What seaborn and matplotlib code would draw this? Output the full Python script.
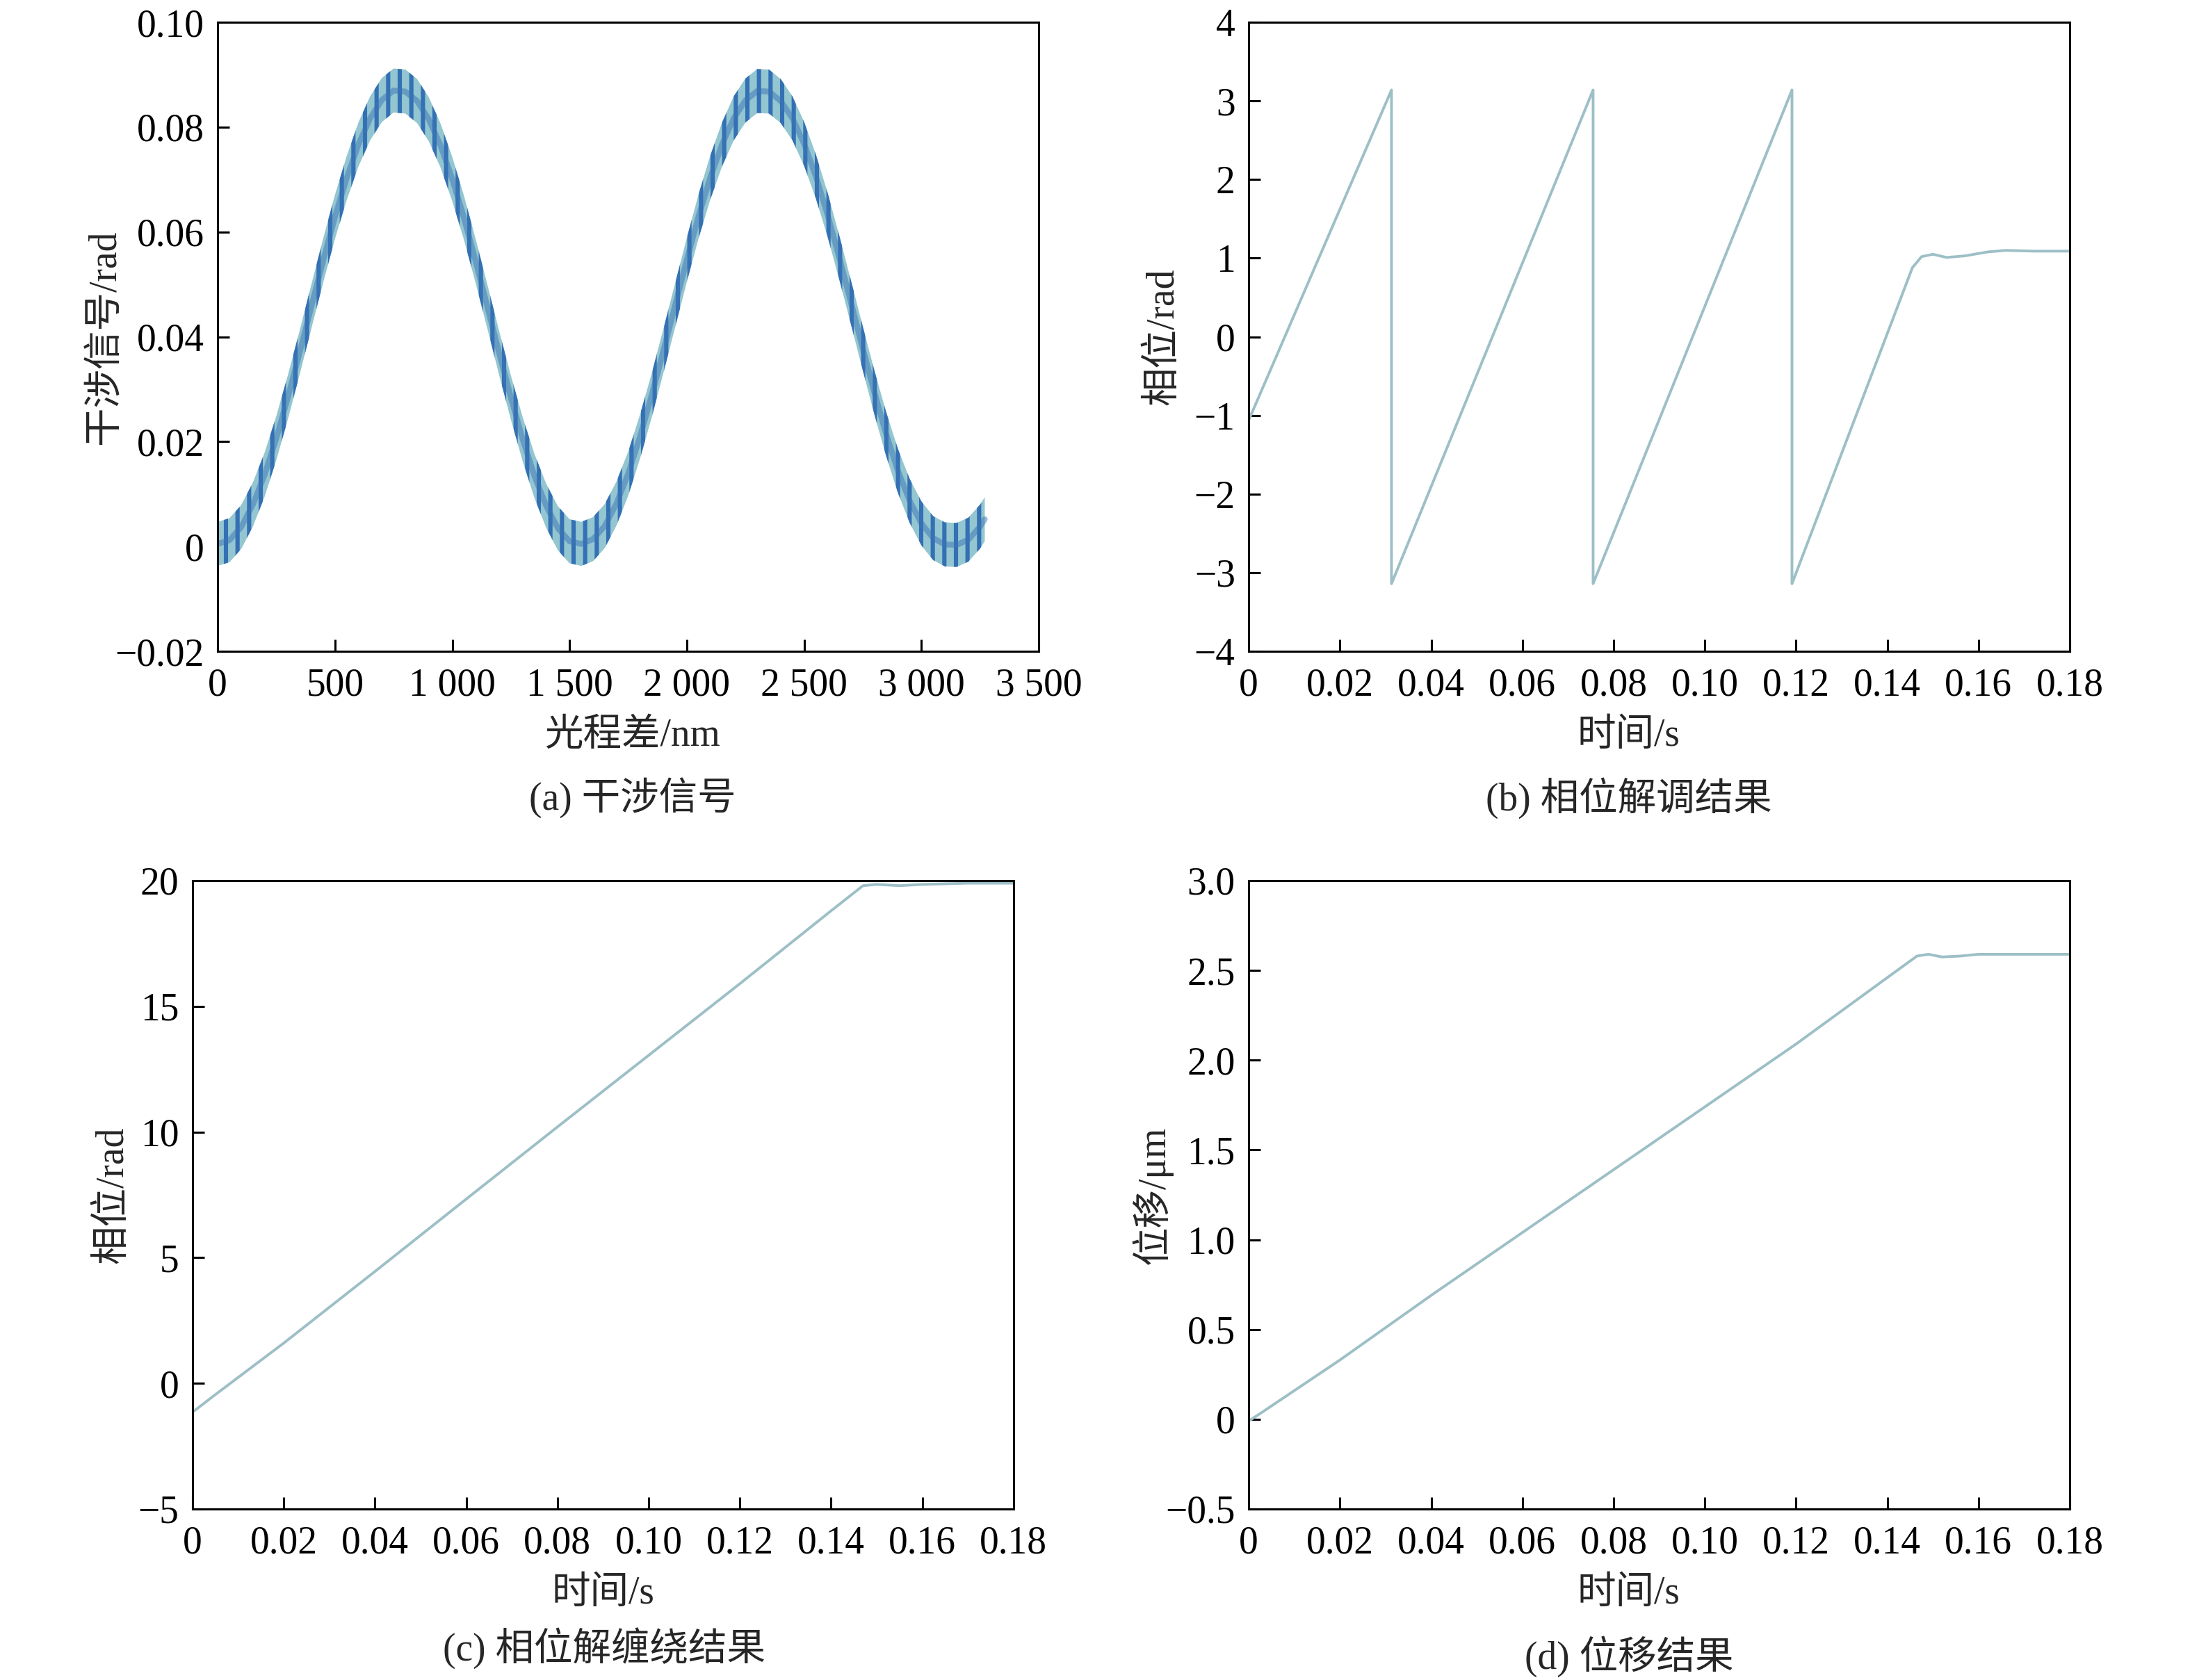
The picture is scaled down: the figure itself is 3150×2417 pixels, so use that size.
import numpy as np
import matplotlib
matplotlib.use("Agg")
import matplotlib.pyplot as plt
import seaborn as sns

# (a) interference signal, centre of the rippled band
opd_nm = [0, 50, 100, 150, 200, 250, 300, 350, 400, 450, 500, 550, 600, 650,
          700, 750, 800, 850, 900, 950, 1000, 1050, 1100, 1150, 1200, 1250,
          1300, 1350, 1400, 1450, 1500, 1550, 1600, 1650, 1700, 1750, 1800,
          1850, 1900, 1950, 2000, 2050, 2100, 2150, 2200, 2250, 2300, 2350,
          2400, 2450, 2500, 2550, 2600, 2650, 2700, 2750, 2800, 2850, 2900,
          2950, 3000, 3050, 3100, 3150, 3200, 3250, 3270]
signal = [0.0005, 0.0012, 0.0037, 0.0080, 0.0137, 0.0207, 0.0286, 0.0371,
          0.0459, 0.0546, 0.0629, 0.0703, 0.0767, 0.0817, 0.0852, 0.0870,
          0.0868, 0.0850, 0.0815, 0.0765, 0.0701, 0.0627, 0.0544, 0.0457,
          0.0369, 0.0284, 0.0205, 0.0135, 0.0078, 0.0035, 0.0010, 0.0005,
          0.0014, 0.0039, 0.0082, 0.0139, 0.0209, 0.0288, 0.0373, 0.0460,
          0.0547, 0.0630, 0.0704, 0.0767, 0.0817, 0.0851, 0.0869, 0.0868,
          0.0850, 0.0817, 0.0768, 0.0706, 0.0633, 0.0551, 0.0465, 0.0378,
          0.0293, 0.0214, 0.0144, 0.0087, 0.0044, 0.0016, 0.0004, 0.0003,
          0.0013, 0.0038, 0.0052]
ripple = 0.0042  # half height of the ripple band

# (b) wrapped phase
t_b = [0, 0.0313, 0.0313, 0.0755, 0.0755, 0.1191, 0.1191, 0.1455, 0.1475,
       0.1500, 0.1530, 0.1570, 0.1620, 0.1660, 0.1720, 0.1800]
phase_b = [-1.06, 3.14, -3.14, 3.14, -3.14, 3.14, -3.14, 0.88, 1.02, 1.05,
           1.01, 1.03, 1.08, 1.10, 1.09, 1.09]

# (c) unwrapped phase
t_c = [0, 0.005, 0.02, 0.04, 0.06, 0.08, 0.10, 0.12, 0.14, 0.147, 0.150,
       0.155, 0.16, 0.17, 0.18]
phase_c = [-1.15, -0.45, 1.6, 4.45, 7.33, 10.2, 13.05, 15.9, 18.8, 19.8,
           19.85, 19.8, 19.85, 19.9, 19.9]

# (d) displacement
t_d = [0, 0.003, 0.02, 0.04, 0.06, 0.08, 0.10, 0.12, 0.14, 0.1465, 0.149,
       0.152, 0.156, 0.16, 0.17, 0.18]
disp = [-0.01, 0.04, 0.33, 0.69, 1.04, 1.39, 1.74, 2.09, 2.46, 2.58, 2.59,
        2.575, 2.58, 2.59, 2.59, 2.59]

t_ticks = [0, 0.02, 0.04, 0.06, 0.08, 0.10, 0.12, 0.14, 0.16, 0.18]
t_labels = ['0', '0.02', '0.04', '0.06', '0.08', '0.10', '0.12', '0.14', '0.16', '0.18']

sns.set_style("ticks")
plt.rcParams['font.family'] = ['Liberation Serif', 'Noto Sans CJK SC']
plt.rcParams['font.size'] = 20
plt.rcParams['axes.linewidth'] = 1.1
plt.rcParams['hatch.linewidth'] = 2.2

line_col = '#9dbfc6'
fs = 20

fig = plt.figure(figsize=(15.75, 12.085), dpi=200)
ax_a = fig.add_axes([0.0994, 0.6123, 0.3749, 0.3744])
ax_b = fig.add_axes([0.5702, 0.6123, 0.3749, 0.3744])
ax_c = fig.add_axes([0.0879, 0.1018, 0.3749, 0.3740])
ax_d = fig.add_axes([0.5702, 0.1018, 0.3749, 0.3740])


def style(ax, xlab, ylab, ylab_x, xlab_x, cap, cap_x, cap_y):
    for s in ax.spines.values():
        s.set_color('black')
        s.set_linewidth(1.1)
    ax.tick_params(direction='in', length=6, width=1.1, top=False, right=False,
                   labelsize=fs, colors='black')
    ax.tick_params(axis='x', pad=8.5)
    ax.tick_params(axis='y', pad=7)
    ax.set_xlabel(xlab, fontsize=fs, va='center')
    ax.set_ylabel(ylab, fontsize=fs, va='center')
    ax.xaxis.set_label_coords(xlab_x, -0.135)
    ax.yaxis.set_label_coords(ylab_x, 0.5)
    ax.text(cap_x, cap_y, cap, transform=ax.transAxes, ha='center', va='center',
            fontsize=fs)


# (a)
sig = np.array(signal)
ax_a.fill_between(opd_nm, sig - ripple, sig + ripple, facecolor='#93c6d0',
                  edgecolor='#3470b4', hatch='||', linewidth=0)
sns.lineplot(x=opd_nm, y=signal, ax=ax_a, color='#3a74b6', linewidth=3,
             alpha=0.5, estimator=None, sort=False)
ax_a.set_xlim(0, 3500)
ax_a.set_ylim(-0.02, 0.10)
ax_a.set_xticks([0, 500, 1000, 1500, 2000, 2500, 3000, 3500])
ax_a.set_xticklabels(['0', '500', '1 000', '1 500', '2 000', '2 500', '3 000', '3 500'])
ax_a.set_yticks([-0.02, 0, 0.02, 0.04, 0.06, 0.08, 0.10])
ax_a.set_yticklabels(['\u22120.02', '0', '0.02', '0.04', '0.06', '0.08', '0.10'])
style(ax_a, '光程差/nm', '干涉信号/rad', -0.137, 0.505, '(a) 干涉信号', 0.505, -0.233)

# (b)
sns.lineplot(x=t_b, y=phase_b, ax=ax_b, color=line_col, linewidth=1.4,
             estimator=None, sort=False)
ax_b.set_xlim(0, 0.18)
ax_b.set_ylim(-4, 4)
ax_b.set_xticks(t_ticks)
ax_b.set_xticklabels(t_labels)
ax_b.set_yticks([-4, -3, -2, -1, 0, 1, 2, 3, 4])
ax_b.set_yticklabels(['\u22124', '\u22123', '\u22122', '\u22121', '0', '1', '2', '3', '4'])
style(ax_b, '时间/s', '相位/rad', -0.104, 0.463, '(b) 相位解调结果', 0.463, -0.233)

# (c)
sns.lineplot(x=t_c, y=phase_c, ax=ax_c, color=line_col, linewidth=1.4,
             estimator=None, sort=False)
ax_c.set_xlim(0, 0.18)
ax_c.set_ylim(-5, 20)
ax_c.set_xticks(t_ticks)
ax_c.set_xticklabels(t_labels)
ax_c.set_yticks([-5, 0, 5, 10, 15, 20])
ax_c.set_yticklabels(['\u22125', '0', '5', '10', '15', '20'])
style(ax_c, '时间/s', '相位/rad', -0.097, 0.5, '(c) 相位解缠绕结果', 0.501, -0.221)

# (d)
sns.lineplot(x=t_d, y=disp, ax=ax_d, color=line_col, linewidth=1.4,
             estimator=None, sort=False)
ax_d.set_xlim(0, 0.18)
ax_d.set_ylim(-0.5, 3.0)
ax_d.set_xticks(t_ticks)
ax_d.set_xticklabels(t_labels)
ax_d.set_yticks([-0.5, 0, 0.5, 1.0, 1.5, 2.0, 2.5, 3.0])
ax_d.set_yticklabels(['\u22120.5', '0', '0.5', '1.0', '1.5', '2.0', '2.5', '3.0'])
style(ax_d, '时间/s', '位移/μm', -0.118, 0.463, '(d) 位移结果', 0.463, -0.235)

fig.savefig('out.png', dpi=200, facecolor='white')
